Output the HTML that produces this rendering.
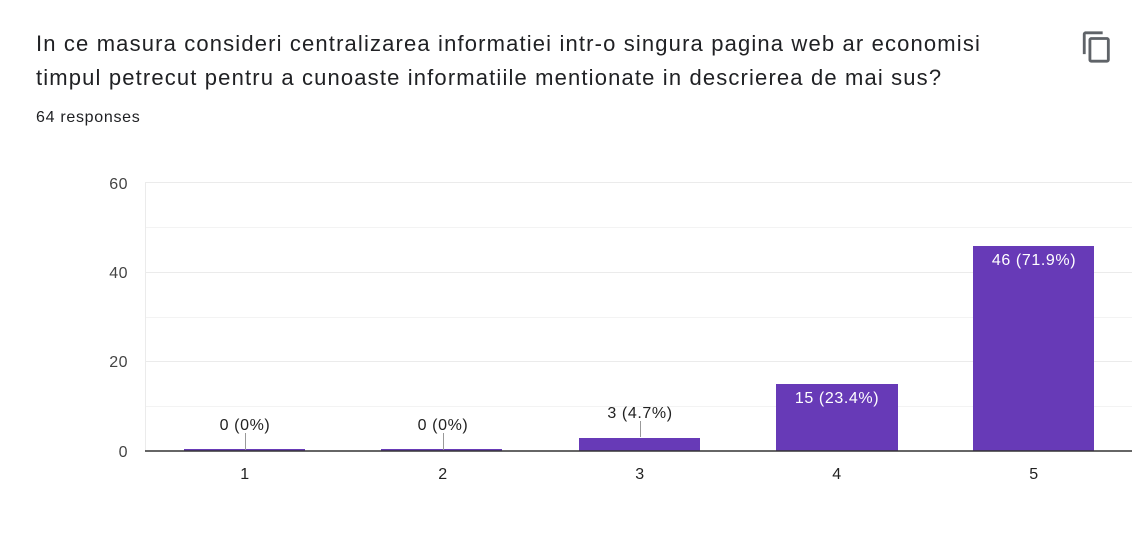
<!DOCTYPE html>
<html><head><meta charset="utf-8"><style>
body{margin:0;background:#fff;width:1143px;height:553px;overflow:hidden;font-family:"Liberation Sans",Arial,sans-serif;}
.t{position:absolute;left:36px;top:27px;font-size:22px;line-height:34px;color:#202124;letter-spacing:1.15px;white-space:nowrap}
.r{position:absolute;left:36px;top:109px;font-size:16px;color:#202124;letter-spacing:0.7px}
</style></head><body>
<div class="t">In ce masura consideri centralizarea informatiei intr-o singura pagina web ar economisi<br>timpul petrecut pentru a cunoaste informatiile mentionate in descrierea de mai sus?</div>
<div class="r">64 responses</div>
<svg style="position:absolute;left:1080px;top:30px" width="34" height="34" viewBox="0 0 24 24"><path fill="#5f6368" d="M16 1H4c-1.1 0-2 .9-2 2v14h2V3h12V1zm3 4H8c-1.1 0-2 .9-2 2v14c0 1.1.9 2 2 2h11c1.1 0 2-.9 2-2V7c0-1.1-.9-2-2-2zm0 16H8V7h11v14z"/></svg>
<svg style="position:absolute;left:0;top:0" width="1143" height="553" font-family="Liberation Sans,Arial,sans-serif">
<g stroke="#ebebeb" stroke-width="1">
<line x1="145" x2="1132" y1="182.5" y2="182.5"/><line x1="145" x2="1132" y1="227.5" y2="227.5" stroke="#f3f3f3"/>
<line x1="145" x2="1132" y1="272.5" y2="272.5"/><line x1="145" x2="1132" y1="317.5" y2="317.5" stroke="#f3f3f3"/>
<line x1="145" x2="1132" y1="361.5" y2="361.5"/><line x1="145" x2="1132" y1="406.5" y2="406.5" stroke="#f3f3f3"/>
<line x1="145.5" x2="145.5" y1="182" y2="451"/>
</g>
<g font-size="16" fill="#444" text-anchor="end" letter-spacing="0.5">
<text x="128" y="189">60</text><text x="128" y="278">40</text><text x="128" y="367">20</text><text x="128" y="457">0</text>
</g>
<g fill="#673ab7">
<rect x="184" y="449" width="121" height="2"/><rect x="381" y="449" width="121" height="2"/>
<rect x="579" y="438" width="121" height="13"/><rect x="776" y="384" width="122" height="67"/><rect x="973" y="246" width="121" height="205"/>
</g>
<line x1="145" x2="1132" y1="451" y2="451" stroke="#333" stroke-width="1.5"/>
<g stroke="#999"><line x1="245.5" x2="245.5" y1="433" y2="450"/><line x1="443.5" x2="443.5" y1="433" y2="450"/><line x1="640.5" x2="640.5" y1="421" y2="437"/></g>
<g font-size="16" fill="#222" text-anchor="middle" letter-spacing="0.6">
<text x="245" y="430">0 (0%)</text><text x="443" y="430">0 (0%)</text><text x="640" y="418">3 (4.7%)</text>
<text x="837" y="403" fill="#fff">15 (23.4%)</text><text x="1034" y="265" fill="#fff">46 (71.9%)</text>
<text x="245" y="479">1</text><text x="443" y="479">2</text><text x="640" y="479">3</text><text x="837" y="479">4</text><text x="1034" y="479">5</text>
</g>
</svg>
</body></html>
